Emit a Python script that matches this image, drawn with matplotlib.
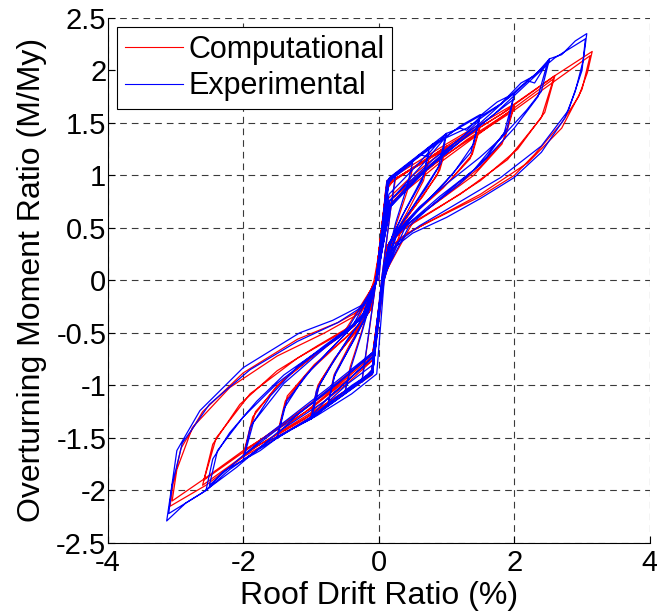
import numpy as np
import matplotlib
matplotlib.use("Agg")
import matplotlib.pyplot as plt

plt.rcParams['font.family'] = ['Liberation Sans', 'DejaVu Sans']

# ── data: hysteresis paths, (drift %, M/My) ──────────────────────────────
# one line per half cycle, positive excursion then negative excursion
comp_points = [
    (0, 0), (0.10, 0.85), (0.25, 0.98), (0.17, 0.65), (0.05, 0.05),
    (-0.10, -0.85), (-0.25, -0.96), (-0.17, -0.62), (-0.05, -0.05),
    (0.12, 0.90), (0.50, 1.07), (0.42, 0.85), (0.25, 0.52), (0.06, 0.04),
    (-0.10, -0.87), (-0.50, -1.06), (-0.42, -0.82), (-0.25, -0.48), (-0.05, -0.03),
    (0.12, 0.91), (0.75, 1.18), (0.66, 0.95), (0.42, 0.65), (0.20, 0.40), (0.06, 0.03),
    (-0.10, -0.88), (-0.75, -1.17), (-0.66, -0.90), (-0.42, -0.60), (-0.20, -0.36), (-0.05, -0.03),
    (0.12, 0.92), (0.60, 1.10), (1.00, 1.28), (0.90, 1.05), (0.65, 0.80), (0.35, 0.55), (0.12, 0.32), (0.06, 0.03),
    (-0.10, -0.88), (-0.60, -1.10), (-1.00, -1.28), (-0.90, -1.00), (-0.65, -0.74), (-0.35, -0.50), (-0.12, -0.28), (-0.05, -0.02),
    (0.14, 0.78), (0.50, 1.00), (0.98, 1.25), (0.86, 1.00), (0.55, 0.72), (0.25, 0.45), (0.06, 0.03),
    (-0.09, -0.76), (-0.50, -1.00), (-0.98, -1.24), (-0.86, -0.96), (-0.55, -0.66), (-0.25, -0.40), (-0.05, -0.02),
    (0.12, 0.92), (0.70, 1.15), (1.10, 1.32), (1.50, 1.47), (1.38, 1.20), (1.05, 0.95), (0.65, 0.72), (0.30, 0.50), (0.10, 0.30), (0.06, 0.03),
    (-0.10, -0.88), (-0.70, -1.15), (-1.10, -1.32), (-1.50, -1.47), (-1.38, -1.15), (-1.05, -0.88), (-0.65, -0.64), (-0.30, -0.44), (-0.10, -0.26), (-0.05, -0.02),
    (0.15, 0.75), (0.60, 1.02), (1.10, 1.28), (1.48, 1.44), (1.35, 1.16), (0.95, 0.88), (0.50, 0.62), (0.20, 0.42), (0.06, 0.03),
    (-0.09, -0.72), (-0.60, -1.00), (-1.10, -1.26), (-1.48, -1.44), (-1.35, -1.10), (-0.95, -0.80), (-0.50, -0.55), (-0.20, -0.36), (-0.05, -0.02),
    (0.12, 0.92), (0.80, 1.18), (1.40, 1.42), (2.00, 1.66), (1.86, 1.35), (1.50, 1.08), (1.00, 0.82), (0.50, 0.57), (0.15, 0.36), (0.06, 0.03),
    (-0.10, -0.88), (-0.80, -1.18), (-1.40, -1.42), (-2.00, -1.66), (-1.86, -1.30), (-1.50, -1.00), (-1.00, -0.74), (-0.50, -0.50), (-0.15, -0.30), (-0.05, -0.02),
    (0.15, 0.72), (0.70, 1.05), (1.30, 1.34), (1.98, 1.63), (1.82, 1.30), (1.40, 1.00), (0.85, 0.74), (0.35, 0.50), (0.06, 0.03),
    (-0.09, -0.70), (-0.70, -1.04), (-1.30, -1.32), (-1.98, -1.62), (-1.82, -1.25), (-1.40, -0.94), (-0.85, -0.66), (-0.35, -0.43), (-0.05, -0.02),
    (0.12, 0.92), (1.00, 1.26), (1.80, 1.58), (2.60, 1.95), (2.45, 1.60), (2.05, 1.25), (1.50, 0.95), (0.90, 0.70), (0.40, 0.50), (0.12, 0.33), (0.06, 0.03),
    (-0.10, -0.88), (-1.00, -1.28), (-1.80, -1.58), (-2.60, -1.95), (-2.45, -1.56), (-2.05, -1.18), (-1.50, -0.86), (-0.90, -0.62), (-0.40, -0.43), (-0.12, -0.27), (-0.05, -0.02),
    (0.15, 0.72), (0.90, 1.12), (1.70, 1.50), (2.58, 1.92), (2.40, 1.55), (1.90, 1.15), (1.20, 0.82), (0.50, 0.55), (0.06, 0.03),
    (-0.09, -0.70), (-0.90, -1.12), (-1.70, -1.50), (-2.58, -1.90), (-2.40, -1.50), (-1.90, -1.08), (-1.20, -0.74), (-0.50, -0.48), (-0.05, -0.02),
    (0.12, 0.95), (1.00, 1.30), (2.00, 1.68), (2.60, 1.95), (3.15, 2.18), (3.08, 1.98), (2.95, 1.75), (2.70, 1.50), (2.30, 1.20), (2.00, 1.00), (1.50, 0.80), (1.00, 0.64), (0.50, 0.48), (0.20, 0.34), (0.08, 0.00),
    (-0.10, -0.90), (-1.00, -1.30), (-2.00, -1.68), (-2.55, -1.95), (-3.08, -2.15), (-3.04, -1.95), (-2.92, -1.60), (-2.60, -1.25), (-2.00, -0.88), (-1.20, -0.56), (-0.60, -0.40), (-0.20, -0.26), (-0.07, 0.00),
    (0.14, 0.75), (1.00, 1.20), (2.00, 1.62), (2.60, 1.90), (3.12, 2.14), (3.00, 1.82), (2.70, 1.45), (2.20, 1.12), (1.50, 0.82), (0.80, 0.58), (0.30, 0.40), (0.07, 0.00),
    (-0.08, -0.75), (-1.00, -1.22), (-2.00, -1.62), (-2.60, -1.90), (-3.05, -2.10), (-2.98, -1.80), (-2.75, -1.40), (-2.20, -1.02), (-1.50, -0.72), (-0.80, -0.50), (-0.30, -0.32), (-0.05, 0.00),
]

exp_points = [
    (0, 0), (0.12, 0.90), (0.25, 1.02), (0.18, 0.70), (0.05, 0.05),
    (-0.10, -0.85), (-0.25, -0.97), (-0.18, -0.65), (-0.05, -0.05),
    (0.13, 0.93), (0.50, 1.12), (0.42, 0.90), (0.25, 0.55), (0.06, 0.05),
    (-0.10, -0.86), (-0.50, -1.07), (-0.42, -0.85), (-0.25, -0.50), (-0.05, -0.04),
    (0.13, 0.94), (0.40, 1.08), (0.75, 1.27), (0.66, 1.00), (0.40, 0.68), (0.20, 0.42), (0.06, 0.04),
    (-0.09, -0.87), (-0.40, -1.00), (-0.75, -1.18), (-0.66, -0.92), (-0.40, -0.60), (-0.20, -0.35), (-0.05, -0.03),
    (0.15, 0.82), (0.45, 1.02), (0.74, 1.22), (0.64, 0.95), (0.35, 0.62), (0.15, 0.35), (0.05, 0.02),
    (-0.08, -0.80), (-0.45, -0.98), (-0.74, -1.15), (-0.64, -0.88), (-0.35, -0.55), (-0.15, -0.30), (-0.04, -0.02),
    (0.14, 0.95), (0.50, 1.14), (0.62, 1.20), (0.80, 1.30), (1.00, 1.40), (0.92, 1.12), (0.70, 0.88), (0.45, 0.65), (0.20, 0.42), (0.06, 0.03),
    (-0.09, -0.88), (-0.50, -1.08), (-0.80, -1.22), (-1.00, -1.32), (-0.92, -1.05), (-0.70, -0.80), (-0.45, -0.55), (-0.20, -0.33), (-0.05, -0.02),
    (0.16, 0.75), (0.50, 1.00), (0.75, 1.18), (0.98, 1.36), (0.88, 1.08), (0.60, 0.80), (0.30, 0.50), (0.06, 0.03),
    (-0.08, -0.72), (-0.50, -0.98), (-0.75, -1.12), (-0.98, -1.28), (-0.88, -1.00), (-0.60, -0.70), (-0.30, -0.42), (-0.04, -0.02),
    (0.15, 0.96), (0.60, 1.18), (0.90, 1.32), (1.20, 1.47), (1.50, 1.58), (1.40, 1.30), (1.10, 1.02), (0.75, 0.78), (0.40, 0.55), (0.15, 0.35), (0.06, 0.03),
    (-0.09, -0.88), (-0.60, -1.10), (-1.00, -1.32), (-1.30, -1.42), (-1.50, -1.50), (-1.40, -1.22), (-1.10, -0.92), (-0.75, -0.68), (-0.40, -0.45), (-0.15, -0.28), (-0.04, -0.02),
    (0.17, 0.72), (0.50, 0.95), (0.90, 1.18), (1.20, 1.35), (1.48, 1.52), (1.36, 1.22), (1.00, 0.95), (0.60, 0.68), (0.25, 0.42), (0.06, 0.03),
    (-0.08, -0.70), (-0.50, -0.92), (-0.90, -1.12), (-1.20, -1.28), (-1.48, -1.45), (-1.36, -1.15), (-1.00, -0.85), (-0.60, -0.58), (-0.25, -0.35), (-0.04, -0.02),
    (0.15, 0.97), (0.70, 1.24), (1.10, 1.42), (1.50, 1.57), (1.75, 1.70), (2.00, 1.78), (1.90, 1.45), (1.60, 1.18), (1.20, 0.92), (0.80, 0.72), (0.40, 0.52), (0.15, 0.35), (0.06, 0.03),
    (-0.09, -0.88), (-0.70, -1.15), (-1.10, -1.35), (-1.50, -1.50), (-1.75, -1.62), (-2.00, -1.71), (-1.90, -1.40), (-1.60, -1.10), (-1.20, -0.82), (-0.80, -0.62), (-0.40, -0.43), (-0.15, -0.26), (-0.04, -0.02),
    (0.17, 0.70), (0.60, 1.00), (1.00, 1.22), (1.50, 1.48), (1.98, 1.72), (1.85, 1.40), (1.40, 1.05), (0.90, 0.78), (0.45, 0.52), (0.06, 0.03),
    (-0.08, -0.68), (-0.60, -0.98), (-1.00, -1.18), (-1.50, -1.42), (-1.98, -1.66), (-1.85, -1.35), (-1.40, -0.98), (-0.90, -0.70), (-0.45, -0.45), (-0.04, -0.02),
    (0.16, 0.98), (0.80, 1.30), (1.30, 1.45), (1.80, 1.68), (2.10, 1.88), (2.30, 1.95), (2.52, 2.11), (2.40, 1.80), (2.18, 1.62), (1.80, 1.35), (1.49, 1.17), (1.00, 0.92), (0.60, 0.70), (0.25, 0.45), (0.06, 0.03),
    (-0.09, -0.89), (-0.80, -1.22), (-1.30, -1.42), (-1.80, -1.62), (-2.20, -1.80), (-2.55, -2.00), (-2.45, -1.70), (-2.20, -1.45), (-1.80, -1.15), (-1.40, -0.90), (-1.00, -0.72), (-0.60, -0.55), (-0.25, -0.35), (-0.04, -0.02),
    (0.17, 0.70), (0.70, 1.05), (1.20, 1.32), (1.70, 1.58), (2.10, 1.82), (2.48, 2.05), (2.35, 1.75), (2.00, 1.45), (1.50, 1.10), (0.90, 0.80), (0.40, 0.52), (0.06, 0.03),
    (-0.08, -0.68), (-0.70, -1.00), (-1.20, -1.25), (-1.70, -1.50), (-2.10, -1.72), (-2.50, -1.95), (-2.38, -1.62), (-2.00, -1.30), (-1.50, -0.98), (-0.90, -0.68), (-0.40, -0.45), (-0.04, -0.02),
    (0.12, 0.95), (0.46, 1.11), (0.60, 1.20), (0.70, 1.18), (0.90, 1.33), (1.00, 1.40), (1.20, 1.45), (1.30, 1.43), (1.50, 1.56), (1.80, 1.68), (2.00, 1.78), (2.20, 1.90), (2.30, 1.88), (2.52, 2.11), (2.70, 2.15), (2.90, 2.28), (3.07, 2.35),
    (3.02, 2.10), (2.90, 1.80), (2.75, 1.55), (2.40, 1.22), (2.00, 0.98), (1.50, 0.78), (1.00, 0.60), (0.50, 0.45), (0.20, 0.30), (0.08, 0.00),
    (-0.03, -0.89), (-0.40, -1.08), (-0.92, -1.29), (-1.30, -1.42), (-1.60, -1.52), (-2.00, -1.71), (-2.30, -1.82), (-2.55, -2.00), (-2.85, -2.12), (-3.13, -2.29),
    (-3.08, -2.07), (-2.98, -1.62), (-2.64, -1.24), (-2.00, -0.83), (-1.17, -0.50), (-0.68, -0.38), (-0.20, -0.22), (-0.03, 0.00),
    (0.14, 0.75), (0.80, 1.15), (1.50, 1.50), (2.10, 1.85), (2.60, 2.12), (3.05, 2.30), (3.00, 2.00), (2.80, 1.62), (2.40, 1.28), (1.80, 0.98), (1.20, 0.75), (0.60, 0.52), (0.25, 0.35), (0.07, 0.00),
    (-0.06, -0.72), (-0.80, -1.15), (-1.50, -1.45), (-2.10, -1.78), (-2.60, -2.02), (-3.10, -2.22), (-3.05, -1.95), (-2.90, -1.55), (-2.50, -1.18), (-1.90, -0.85), (-1.20, -0.58), (-0.60, -0.40), (-0.22, -0.24), (-0.03, 0.00),
]

x_ticks = [-4, -2, 0, 2, 4]
y_ticks = [-2.5, -2, -1.5, -1, -0.5, 0, 0.5, 1, 1.5, 2, 2.5]

comp_drift, comp_moment = np.array(comp_points).T
exp_drift, exp_moment = np.array(exp_points).T

# ── figure ───────────────────────────────────────────────
fig = plt.figure(figsize=(6.57, 6.16), dpi=100)
ax = fig.add_axes([0.164, 0.1185, 0.825, 0.8525])

ax.plot(comp_drift, comp_moment, color='#ff0000', lw=0.9, label='Computational', zorder=2)
ax.plot(exp_drift, exp_moment, color='#0000ff', lw=0.9, label='Experimental', zorder=3)

ax.set_xlim(-4, 4)
ax.set_ylim(-2.5, 2.5)
ax.set_xticks(x_ticks)
ax.set_xticklabels([f"{t:g}" for t in x_ticks])
ax.set_yticks(y_ticks)
ax.set_yticklabels([f"{t:g}" for t in y_ticks])

ax.grid(True, color='#3a3a3a', linestyle=(0, (6, 4.5)), linewidth=0.8)
ax.set_axisbelow(True)
ax.spines['top'].set_visible(False)
ax.spines['right'].set_visible(False)
for s in ('left', 'bottom'):
    ax.spines[s].set_linewidth(0.8)
ax.tick_params(direction='in', length=5, width=0.8, labelsize=21)
ax.tick_params(axis='y', pad=1)
ax.tick_params(axis='x', pad=4)

ax.set_xlabel('Roof Drift Ratio (%)', fontsize=23, labelpad=3)
ax.set_ylabel('Overturning Moment Ratio (M/My)', fontsize=23, labelpad=7)

leg = ax.legend(loc='upper left', fontsize=22, fancybox=False, framealpha=1,
                edgecolor='black', handlelength=1.9, borderaxespad=0.3,
                borderpad=0.25, labelspacing=0.22, handletextpad=0.2)
leg.get_frame().set_linewidth(0.8)
for line in leg.get_lines():
    line.set_linewidth(0.8)

plt.savefig('out.png', dpi=100)
